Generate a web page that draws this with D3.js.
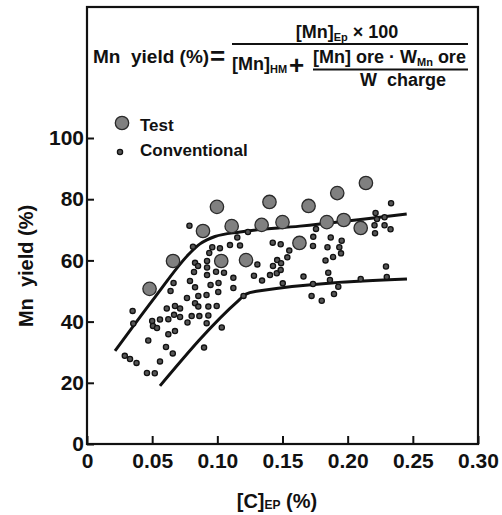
<!DOCTYPE html>
<html><head><meta charset="utf-8">
<script src="https://cdn.jsdelivr.net/npm/d3@7/dist/d3.min.js"></script>
<style>
html,body{margin:0;padding:0;background:#fff;}
svg{display:block;font-family:"Liberation Sans",Arial,Helvetica,sans-serif;font-weight:bold;}
</style></head>
<body><svg id="chart" width="502" height="515"></svg>
<script>
const xTicks = [0, 0.05, 0.10, 0.15, 0.20, 0.25, 0.30];
const xTickLabels = ["0", "0.05", "0.10", "0.15", "0.20", "0.25", "0.30"];
const yTicks = [0, 20, 40, 60, 80, 100];

const testX = [0.048,0.066,0.089,0.0997,0.111,0.103,0.122,0.134,0.140,0.150,0.163,0.170,0.184,0.192,0.197,0.210,0.214];
const testY = [50.7,59.8,69.6,77.5,71.2,59.8,60.1,71.6,79.1,72.5,65.7,77.8,72.5,82.0,73.2,70.6,85.3];

const convX = [0.029,0.033,0.038,0.035,0.0355,0.046,0.052,0.047,0.050,0.0506,0.0537,0.056,0.056,0.0606,0.0658,0.0612,0.0675,0.0714,0.0624,0.0668,0.0714,0.0624,0.0675,0.0641,0.0664,0.0771,0.0767,0.0829,0.0852,0.0821,0.079,0.0829,0.0829,0.0854,0.0803,0.0862,0.0786,0.0813,0.0854,0.0898,0.0918,0.0931,0.0931,0.0995,0.0917,0.0948,0.1009,0.1007,0.1034,0.1123,0.1123,0.0921,0.0921,0.0921,0.099,0.1051,0.0938,0.0961,0.102,0.1097,0.1174,0.1153,0.1235,0.1201,0.1307,0.1425,0.1486,0.1552,0.1537,0.1459,0.1489,0.1427,0.1281,0.1343,0.1404,0.1456,0.1486,0.1502,0.1661,0.1736,0.1734,0.187,0.1954,0.1845,0.1936,0.183,0.1888,0.1949,0.1851,0.1864,0.1734,0.1928,0.210,0.2294,0.230,0.1723,0.1801,0.1895,0.2333,0.2214,0.2225,0.2283,0.2206,0.2283,0.2329,0.221,0.1757];
const convY = [28.8,27.8,26.5,43.5,39.4,23.2,23.1,33.8,40.2,38.6,37.9,40.7,27.0,31.7,29.6,44.3,45.1,44.3,40.8,42.2,41.5,35.9,36.9,50.0,52.6,39.7,47.7,59.2,58.2,56.2,53.3,51.2,46.0,44.9,41.8,41.8,71.3,64.5,48.4,31.5,39.5,42.0,44.9,45.1,48.7,52.0,52.6,49.7,38.1,51.0,54.3,59.8,57.7,55.2,56.3,56.0,62.4,64.3,64.0,65.0,64.9,67.5,69.3,48.4,58.7,65.8,65.3,63.2,61.0,60.1,59.1,58.2,55.0,53.4,55.2,55.8,56.9,52.5,54.7,67.7,64.7,67.5,66.4,64.3,64.3,60.0,61.1,62.3,56.0,53.6,52.3,51.4,53.9,58.0,54.6,48.4,46.8,49.0,78.7,75.5,73.5,74.1,71.5,71.5,70.2,68.9,70.3];

const upperX = [0.0215,0.0522,0.079,0.0867,0.092,0.0982,0.1174,0.1634,0.2453];
const upperY = [30.4,48.0,62.4,65.4,66.7,67.8,69.3,71.2,75.2];
const lowerX = [0.056,0.116,0.122,0.130,0.2455];
const lowerY = [19.0,46.8,49.0,49.9,53.9];

const svg = d3.select("#chart");
const x = d3.scaleLinear().domain([0, 0.3]).range([87, 478]);
const y = d3.scaleLinear().domain([0, 100]).range([444, 138]);

// frame
svg.append("rect").attr("x", 87).attr("y", 7).attr("width", 391).attr("height", 437)
  .attr("fill", "none").attr("stroke", "#111").attr("stroke-width", 2.2);

// axes
const xAxis = d3.axisBottom(x).tickValues(xTicks).tickSize(-8).tickSizeOuter(0).tickPadding(9)
  .tickFormat((d, i) => xTickLabels[i]);
const gx = svg.append("g").attr("transform", "translate(0,444)").call(xAxis);
gx.select(".domain").remove();
gx.selectAll("line").attr("stroke", "#111").attr("stroke-width", 2);
gx.selectAll("text").attr("font-size", 21).attr("font-family", "Liberation Sans, Arial, sans-serif")
  .attr("font-weight", "bold").attr("fill", "#111");

const yAxis = d3.axisLeft(y).tickValues(yTicks).tickSize(-7).tickSizeOuter(0).tickPadding(3);
const gy = svg.append("g").attr("transform", "translate(87,0)").call(yAxis);
gy.select(".domain").remove();
gy.selectAll("line").attr("stroke", "#111").attr("stroke-width", 2);
gy.selectAll("text").attr("font-size", 21).attr("font-family", "Liberation Sans, Arial, sans-serif")
  .attr("font-weight", "bold").attr("fill", "#111");

// lines
const lineGen = d3.line().x(d => x(d[0])).y(d => y(d[1])).curve(d3.curveMonotoneX);
svg.append("path").datum(upperX.map((v, i) => [v, upperY[i]])).attr("d", lineGen)
  .attr("fill", "none").attr("stroke", "#111").attr("stroke-width", 3);
svg.append("path").datum(lowerX.map((v, i) => [v, lowerY[i]])).attr("d", lineGen)
  .attr("fill", "none").attr("stroke", "#111").attr("stroke-width", 3);

// points
svg.append("g").selectAll("circle").data(convX.map((v, i) => [v, convY[i]])).join("circle")
  .attr("cx", d => x(d[0])).attr("cy", d => y(d[1])).attr("r", 2.6)
  .attr("fill", "#555").attr("stroke", "#111").attr("stroke-width", 1.3);
svg.append("g").selectAll("circle").data(testX.map((v, i) => [v, testY[i]])).join("circle")
  .attr("cx", d => x(d[0])).attr("cy", d => y(d[1])).attr("r", 6.7)
  .attr("fill", "#808080").attr("stroke", "#2a2a2a").attr("stroke-width", 1.3);

// legend
svg.append("circle").attr("cx", 122).attr("cy", 123).attr("r", 6.7)
  .attr("fill", "#808080").attr("stroke", "#2a2a2a").attr("stroke-width", 1.3);
svg.append("circle").attr("cx", 120).attr("cy", 152).attr("r", 2.6)
  .attr("fill", "#555").attr("stroke", "#111").attr("stroke-width", 1.3);
svg.append("text").attr("x", 140).attr("y", 131).attr("font-size", 17).attr("fill", "#111").text("Test");
svg.append("text").attr("x", 140).attr("y", 156).attr("font-size", 17).attr("fill", "#111").text("Conventional");

// axis titles
svg.append("text").attr("transform", "translate(33,266) rotate(-90)").attr("text-anchor", "middle")
  .attr("font-size", 20).attr("fill", "#111").text("Mn\u00a0 yield (%)");
const xt = svg.append("text").attr("x", 277).attr("y", 508).attr("text-anchor", "middle")
  .attr("font-size", 20).attr("fill", "#111");
xt.append("tspan").text("[C]");
xt.append("tspan").attr("font-size", 12).attr("dy", 1).text("EP");
xt.append("tspan").attr("dy", -1).text(" (%)");

// formula
const f = svg.append("g").attr("fill", "#111");
f.append("text").attr("x", 93).attr("y", 63).attr("font-size", 19).text("Mn\u00a0 yield (%)");
f.append("text").attr("x", 210).attr("y", 65).attr("font-size", 26).text("=");
f.append("line").attr("x1", 232).attr("x2", 468).attr("y1", 44).attr("y2", 44)
  .attr("stroke", "#111").attr("stroke-width", 2);
const num = f.append("text").attr("x", 347).attr("y", 38).attr("text-anchor", "middle").attr("font-size", 18);
num.append("tspan").text("[Mn]");
num.append("tspan").attr("font-size", 11).attr("dy", 3).text("Ep");
num.append("tspan").attr("dy", -3).text(" \u00d7 100");
const den = f.append("text").attr("x", 232).attr("y", 70).attr("font-size", 18);
den.append("tspan").text("[Mn]");
den.append("tspan").attr("font-size", 11).attr("dy", 3).text("HM");
f.append("text").attr("x", 289).attr("y", 74).attr("font-size", 26).text("+");
const inum = f.append("text").attr("x", 313).attr("y", 63).attr("font-size", 18);
inum.append("tspan").text("[Mn] ore \u00b7 W");
inum.append("tspan").attr("font-size", 11).attr("dy", 3).text("Mn");
inum.append("tspan").attr("dy", -3).text(" ore");
f.append("line").attr("x1", 313).attr("x2", 468).attr("y1", 69.5).attr("y2", 69.5)
  .attr("stroke", "#111").attr("stroke-width", 2);
f.append("text").attr("x", 403).attr("y", 86).attr("text-anchor", "middle").attr("font-size", 18).text("W\u00a0 charge");
</script></body></html>
